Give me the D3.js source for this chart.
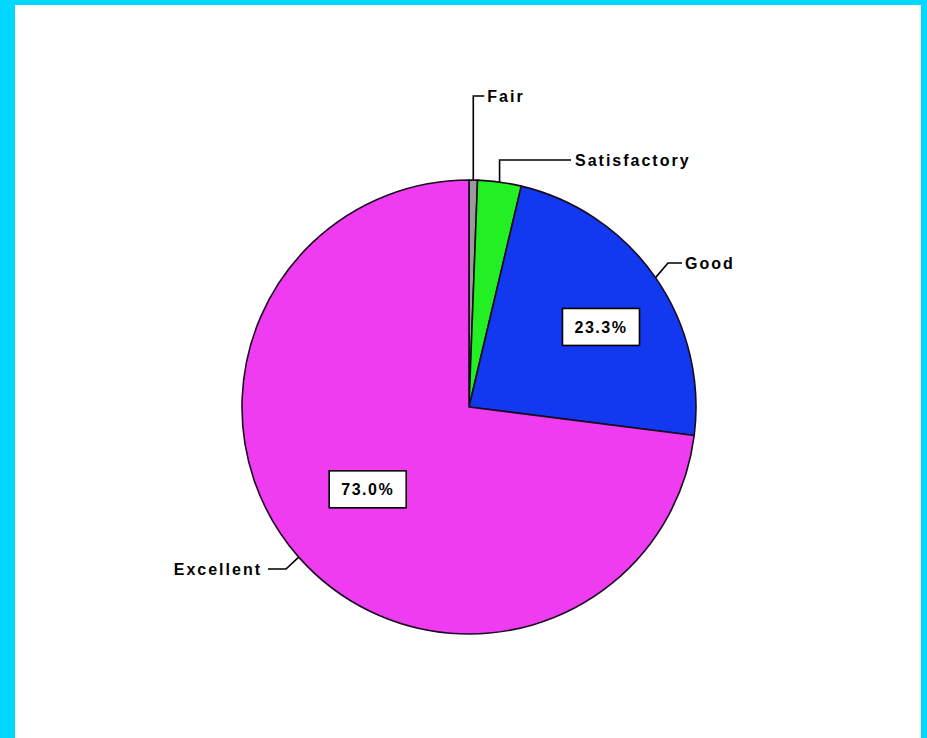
<!DOCTYPE html>
<html>
<head>
<meta charset="utf-8">
<script src="https://cdn.jsdelivr.net/npm/d3@7"></script>
<style>
  html, body { margin: 0; padding: 0; background: #fff; }
  svg { display: block; }
  text { font-family: "Liberation Sans", Arial, sans-serif; font-weight: bold; fill: #000; }
</style>
</head>
<body>
<svg id="chart" width="927" height="738"></svg>
<script>
// Rating categories, drawn clockwise from 12 o'clock
const categories = ["Fair", "Satisfactory", "Good", "Excellent"];
// Share of responses (percent)
const values = [0.6, 3.1, 23.3, 73.0];
// Slices that carry a value box
const valueLabels = ["", "", "23.3%", "73.0%"];
const colors = ["#9a9a9a", "#22f022", "#1238f0", "#f03cf0"];

const W = 927, H = 738;
const svg = d3.select("#chart");

// cyan frame
const frame = svg.append("g");
frame.append("rect").attr("x", 0).attr("y", 0).attr("width", W).attr("height", H).attr("fill", "#00d8ff");
frame.append("rect").attr("x", 15).attr("y", 5).attr("width", W - 15 - 6).attr("height", H - 5).attr("fill", "#fff");

const cx = 469, cy = 407, R = 227;
const data = categories.map((c, i) => ({ cat: c, value: values[i], label: valueLabels[i], color: colors[i] }));

const pie = d3.pie().sort(null).value(d => d.value).startAngle(0).endAngle(2 * Math.PI);
const arcs = pie(data);
const arc = d3.arc().innerRadius(0).outerRadius(R);

const g = svg.append("g").attr("transform", `translate(${cx},${cy})`);
g.selectAll("path.slice")
  .data(arcs)
  .join("path")
  .attr("class", "slice")
  .attr("d", arc)
  .attr("fill", d => d.data.color)
  .attr("stroke", "#1a0a20")
  .attr("stroke-width", 1.6)
  .attr("stroke-linejoin", "round");

// point at radius r along a slice's mid angle (optionally nudged, in degrees)
function rim(d, r, nudge = 0) {
  const a = (d.startAngle + d.endAngle) / 2 + nudge * Math.PI / 180;
  return [cx + r * Math.sin(a), cy - r * Math.cos(a)];
}

// callout routing for each category label
const callouts = {
  "Fair":         (p) => ({ pts: [p, [p[0], 96], [p[0] + 11, 96]], tx: p[0] + 14, ty: 96, anchor: "start" }),
  "Satisfactory": (p) => ({ pts: [p, [p[0], 160], [571, 160]], tx: 575, ty: 160, anchor: "start" }),
  "Good":         (p) => ({ pts: [p, [668, 263], [682, 263]], tx: 685, ty: 263, anchor: "start" }),
  "Excellent":    (p) => ({ pts: [p, [286, 569], [268, 569]], tx: 262, ty: 569, anchor: "end" })
};

const line = d3.line();
arcs.forEach(d => {
  const p = rim(d, R);
  const c = callouts[d.data.cat](p);
  svg.append("path")
    .attr("d", line(c.pts))
    .attr("fill", "none")
    .attr("stroke", "#000")
    .attr("stroke-width", 1.6);
  svg.append("text")
    .attr("x", c.tx)
    .attr("y", c.ty)
    .attr("dy", "0.35em")
    .attr("text-anchor", c.anchor)
    .attr("font-size", 16)
    .attr("letter-spacing", 2)
    .text(d.data.cat);
});

// value boxes inside the larger slices
const boxPlace = { "Good": { r: 0.68, nudge: 3.5 }, "Excellent": { r: 0.575, nudge: 2.3 } };
arcs.filter(d => d.data.label).forEach(d => {
  const bp = boxPlace[d.data.cat];
  const p = rim(d, R * bp.r, bp.nudge);
  const bw = 77, bh = 37;
  svg.append("rect")
    .attr("x", p[0] - bw / 2)
    .attr("y", p[1] - bh / 2)
    .attr("width", bw)
    .attr("height", bh)
    .attr("fill", "#fff")
    .attr("stroke", "#000")
    .attr("stroke-width", 1.6);
  svg.append("text")
    .attr("x", p[0])
    .attr("y", p[1])
    .attr("dy", "0.35em")
    .attr("text-anchor", "middle")
    .attr("font-size", 16)
    .attr("letter-spacing", 1.5)
    .text(d.data.label);
});
</script>
</body>
</html>
